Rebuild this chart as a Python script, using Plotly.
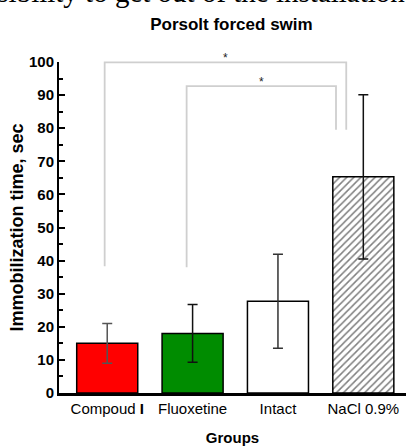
import plotly.graph_objects as go

# ---- data ----
groups = ["Compoud <b>I</b>", "Fluoxetine", "Intact", "NaCl 0.9%"]
means = [15.0, 18.0, 27.7, 65.3]
errors = [6.0, 8.7, 14.2, 24.8]
bar_colors = ["#ff0000", "#008c00", "#ffffff", "#ffffff"]
patterns = ["", "", "", "/"]
err_colors = ["#555555", "#111111", "#333333", "#111111"]
y_ticks = [0, 10, 20, 30, 40, 50, 60, 70, 80, 90, 100]

# significance brackets: (left x, right x, top y, left-leg bottom, right-leg bottom, label)
br_left = [-0.03, 0.93]
br_right = [2.80, 2.68]
br_top = [99.9, 92.7]
br_left_bottom = [38.3, 38.0]
br_right_bottom = [79.5, 79.5]
br_label = ["*", "*"]

YMAX = 100.0

fig = go.Figure()
for i, g in enumerate(groups):
    fig.add_trace(go.Bar(
        x=[g], y=[means[i]],
        width=0.715,
        marker=dict(color=bar_colors[i], line=dict(color="#000000", width=1.5),
                    pattern=dict(shape=patterns[i], fgcolor="#000000", bgcolor="#ffffff",
                                 size=5, solidity=0.3)),
        error_y=dict(type="data", array=[errors[i]], color=err_colors[i],
                     thickness=1.5, width=5),
        showlegend=False,
    ))

for i in range(len(br_left)):
    xs = [br_left[i], br_left[i], br_right[i], br_right[i]]
    ys = [br_left_bottom[i] / YMAX, br_top[i] / YMAX, br_top[i] / YMAX, br_right_bottom[i] / YMAX]
    path = "M {} {} L {} {} L {} {} L {} {}".format(xs[0], ys[0], xs[1], ys[1], xs[2], ys[2], xs[3], ys[3])
    fig.add_shape(type="path", path=path, xref="x", yref="paper",
                  line=dict(color="#cfcfcf", width=1.8))
    fig.add_annotation(x=(br_left[i] + br_right[i]) / 2, y=br_top[i] / YMAX,
                       xref="x", yref="paper", text=br_label[i], showarrow=False,
                       yanchor="bottom", yshift=-5,
                       font=dict(family="Liberation Sans", size=12, color="#222222"))

# clipped caption text from the page above the chart
fig.add_annotation(x=-0.2997, y=1.1586, xref="paper", yref="paper",
                   text="possibility to get out of the installation",
                   showarrow=False, xanchor="left", yanchor="bottom",
                   font=dict(family="Liberation Serif", size=29, color="#000000"))

fig.update_layout(
    width=406, height=446,
    margin=dict(l=59, r=0, t=62, b=53),
    paper_bgcolor="#ffffff", plot_bgcolor="#ffffff",
    barmode="overlay",
    title=dict(text="<b>Porsolt forced swim</b>", x=0.57, xanchor="center",
               y=0.947, yanchor="middle",
               font=dict(family="Liberation Sans", size=17, color="#000000")),
)
fig.update_xaxes(
    type="category", range=[-0.565, 3.5],
    showline=True, linecolor="#000000", linewidth=2.5,
    ticks="", showgrid=False, zeroline=False,
    tickfont=dict(family="Liberation Sans", size=15, color="#000000"),
    title=dict(text="<b>Groups</b>", standoff=18,
               font=dict(family="Liberation Sans", size=15, color="#000000")),
)
fig.update_yaxes(
    range=[0, YMAX], tickvals=y_ticks,
    ticktext=["<b>%d</b>" % v for v in y_ticks],
    showline=True, linecolor="#000000", linewidth=2,
    ticks="inside", ticklen=6, tickwidth=1.5, tickcolor="#000000",
    minor=dict(ticks="inside", ticklen=4, tickwidth=1.5, tickcolor="#000000", dtick=5),
    showgrid=False, zeroline=False,
    tickfont=dict(family="Liberation Sans", size=15, color="#000000"),
    title=dict(text="<b>Immobilization time, sec</b>", standoff=1,
               font=dict(family="Liberation Sans", size=18, color="#000000")),
)

fig.write_html("out.html")
